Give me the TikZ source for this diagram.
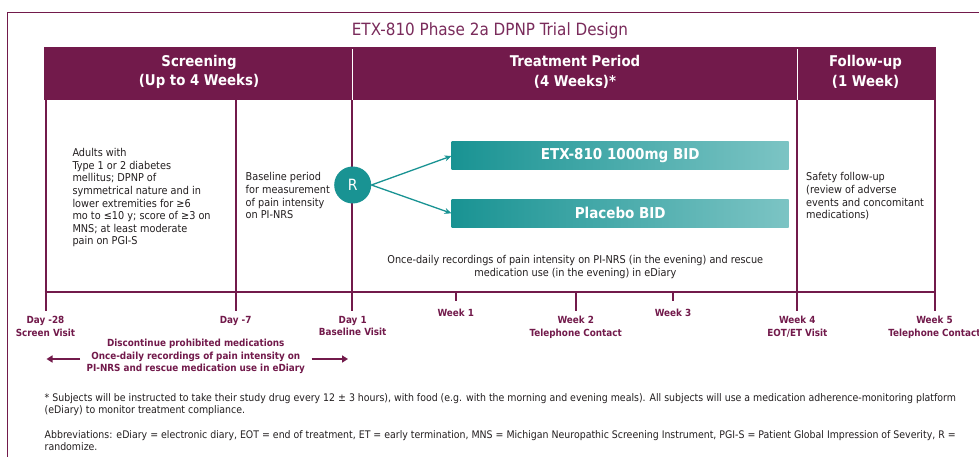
\documentclass[tikz,border=0pt]{standalone}
\usepackage{fontspec}
\setmainfont{DejaVu Sans Condensed}[BoldFont={DejaVu Sans Condensed Bold}]
\usetikzlibrary{arrows.meta}

\definecolor{plum}{HTML}{721A4B}
\definecolor{titleplum}{HTML}{7A2B5B}
\definecolor{tealdark}{HTML}{199393}
\definecolor{teallight}{HTML}{7CC4C4}
\definecolor{bodytext}{HTML}{231F20}

\tikzset{
  frameline/.style={plum, line width=1pt},
  gridline/.style={plum, line width=2pt},
  tick/.style={plum, line width=2pt},
  divider/.style={white, line width=1.2pt},
  headtext/.style={white, font=\fontsize{14.8}{19.5}\selectfont\bfseries, align=center, inner sep=0pt},
  bodybox/.style={bodytext, font=\fontsize{10.8}{12.65}\selectfont, align=left, inner sep=0pt, anchor=north west},
  daylabel/.style={plum, font=\fontsize{9.8}{12.6}\selectfont\bfseries, align=center, inner sep=0pt, anchor=north},
  armbar/.style={minimum width=337pt, minimum height=28pt, inner sep=0pt,
    left color=tealdark, right color=teallight, draw=none,
    text=white, font=\fontsize{15}{18}\selectfont\bfseries},
  randcircle/.style={circle, fill=tealdark, minimum size=37pt, inner sep=0pt,
    text=white, font=\fontsize{15.5}{18}\selectfont},
  armarrow/.style={tealdark, line width=1.3pt, -{Stealth[length=7pt,width=6pt]}},
  spanarrow/.style={plum, line width=1.6pt, -{Triangle[length=6pt,width=7pt]}},
  notetext/.style={bodytext, font=\fontsize{10.45}{12.2}\selectfont, align=left, inner sep=0pt, anchor=north west}
}

\begin{document}
\begin{tikzpicture}[x=1pt, y=-1pt]
\useasboundingbox (0,0) rectangle (979,457);
\fill[white] (0,0) rectangle (979,457);

% outer frame
\draw[frameline] (7,457) -- (7,13) -- (979,13);

% title
\node[titleplum, font=\fontsize{16.9}{20}\selectfont, inner sep=0pt] (title) at (490,30.5) {ETX-810 Phase 2a DPNP Trial Design};

% phase header band
\fill[plum] (44,47) rectangle (936,100);
\draw[divider] (352.3,49) -- (352.3,100);
\draw[divider] (797.3,49) -- (797.3,100);
\node[headtext] (hscreen) at (199,72) {Screening\\(Up to 4 Weeks)};
\node[headtext] (htreat) at (575,72) {Treatment Period\\(4 Weeks)*};
\node[headtext] (hfollow) at (865.5,72) {Follow-up\\(1 Week)};

% body columns
\foreach \x in {45.5,235.7,352.3,797.3,934.5}
  \draw[gridline] (\x,100) -- (\x,292);

% timeline and ticks
\draw[gridline] (44.5,292) -- (935.5,292);
\foreach \x in {45.5,235.7,352.3,575.7,797.3,934.5}
  \draw[tick] (\x,292) -- (\x,310.7);
\foreach \x in {455.7,673}
  \draw[tick] (\x,292) -- (\x,300.7);

% column texts
\node[bodybox] (eligibility) at (72.3,148) {Adults with\\Type 1 or 2 diabetes\\mellitus; DPNP of\\symmetrical nature and in\\lower extremities for ≥6\\mo to ≤10 y; score of ≥3 on\\MNS; at least moderate\\pain on PGI-S};
\node[bodybox] (baseline) at (245.5,172.5) {Baseline period\\for measurement\\of pain intensity\\on PI-NRS};
\node[bodybox] (safety) at (806,172.5) {Safety follow-up\\(review of adverse\\events and concomitant\\medications)};

% randomisation and arms
\node[randcircle] (rand) at (352.7,185) {R};
\node[armbar] (active) at (620.2,156) {ETX-810 1000mg BID};
\node[armbar] (placebo) at (620.2,213.3) {Placebo BID};
\draw[armarrow] (rand.east) -- (active.west);
\draw[armarrow] (rand.east) -- (placebo.west);

\node[bodytext, font=\fontsize{10.8}{13}\selectfont, align=center, inner sep=0pt] (diary) at (575.3,267)
  {Once-daily recordings of pain intensity on PI-NRS (in the evening) and rescue\\medication use (in the evening) in eDiary};

% visit labels
\node[daylabel] (d28) at (45.5,316) {Day -28\\Screen Visit};
\node[daylabel] (d7) at (235.7,316) {Day -7};
\node[daylabel] (d1) at (352.7,316) {Day 1\\Baseline Visit};
\node[daylabel] (w1) at (455.7,308.5) {Week 1};
\node[daylabel] (w2) at (575.7,316) {Week 2\\Telephone Contact};
\node[daylabel] (w3) at (673,308.5) {Week 3};
\node[daylabel] (w4) at (797.3,316) {Week 4\\EOT/ET Visit};
\node[daylabel] (w5) at (934.5,316) {Week 5\\Telephone Contact};

% screening-window note with span arrows
\node[daylabel] (washout) at (195.8,339) {Discontinue prohibited medications\\Once-daily recordings of pain intensity on\\PI-NRS and rescue medication use in eDiary};
\coordinate (spanL) at (46.5,359);
\coordinate (spanR) at (348,359);
\draw[spanarrow] (80,359) -- (spanL);
\draw[spanarrow] (311.5,359) -- (spanR);

% footnotes
\node[notetext] (note1) at (44.5,393.5) {* Subjects will be instructed to take their study drug every 12 ± 3 hours), with food (e.g. with the morning and evening meals). All subjects will use a medication adherence-monitoring platform\\(eDiary) to monitor treatment compliance.};
\node[notetext] (note2) at (44.5,430.5) {Abbreviations: eDiary = electronic diary, EOT = end of treatment, ET = early termination, MNS = Michigan Neuropathic Screening Instrument, PGI-S = Patient Global Impression of Severity, R =\\randomize.};
\end{tikzpicture}
\end{document}
